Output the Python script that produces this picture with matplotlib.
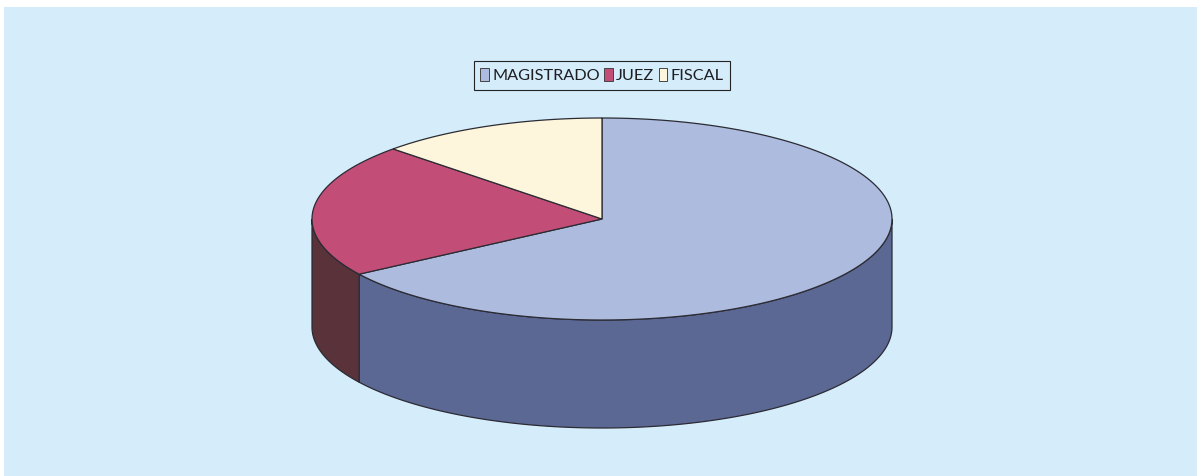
import numpy as np
import matplotlib
matplotlib.use("Agg")
import matplotlib.pyplot as plt
from matplotlib.patches import Polygon, Rectangle, Patch

categories = ["MAGISTRADO", "JUEZ", "FISCAL"]
values = [65.8, 21.4, 12.8]
top_colors = ["#ADBBDE", "#C24E78", "#FEF6DC"]
side_colors = ["#5B6894", "#5A323A", "#A9A493"]

CX, CY, RX, RY, DEPTH = 602, 219, 290, 101, 108
EDGE = "#2B2B33"

fig = plt.figure(figsize=(11.97, 4.76), dpi=100, facecolor="white")
ax = fig.add_axes([0, 0, 1, 1])
ax.set_xlim(0, 1197)
ax.set_ylim(476, 0)
ax.axis("off")
ax.add_patch(Rectangle((4, 7), 1193, 469, fc="#D5EDFB", ec="none", zorder=0))


def ell(t):
    return CX + RX * np.cos(t), CY - RY * np.sin(t)


fr = np.array(values) / np.sum(values)
bounds = np.pi / 2 - 2 * np.pi * np.concatenate([[0], np.cumsum(fr)])

# side walls (only the front half of the ellipse is visible)
for i in range(len(values)):
    a0, a1 = bounds[i], bounds[i + 1]
    ts = []
    for k in (0, -1):
        lo, hi = np.pi + 2 * np.pi * k, 2 * np.pi + 2 * np.pi * k
        s, e = max(a1, lo), min(a0, hi)
        if e > s:
            ts.append(np.linspace(e, s, 200))
    for t in ts:
        x, y = ell(t)
        pts = np.r_[np.c_[x, y], np.c_[x[::-1], y[::-1] + DEPTH]]
        ax.add_patch(Polygon(pts, closed=True, fc=side_colors[i], ec=EDGE, lw=0.9, zorder=2))

# top slices
for i in range(len(values)):
    t = np.linspace(bounds[i], bounds[i + 1], 300)
    x, y = ell(t)
    pts = np.r_[[[CX, CY]], np.c_[x, y]]
    ax.add_patch(Polygon(pts, closed=True, fc=top_colors[i], ec=EDGE, lw=0.9, zorder=3))

handles = [Patch(fc=c, ec="#444444", lw=0.7) for c in top_colors]
leg = ax.legend(
    handles, categories, ncols=3, loc="center", bbox_to_anchor=(602 / 1197, 1 - 75.5 / 476),
    prop={"family": "Lato", "size": 11.7}, frameon=True, fancybox=False, framealpha=1,
    facecolor="#D5EDFB", edgecolor="#222222", handlelength=0.52, handleheight=0.8,
    handletextpad=0.2, columnspacing=0.28, borderpad=0.42, borderaxespad=0,
    labelcolor="#1E1E22",
)
leg.get_frame().set_linewidth(0.8)
leg.set_zorder(5)

fig.savefig("out.png", dpi=100, facecolor=fig.get_facecolor())
